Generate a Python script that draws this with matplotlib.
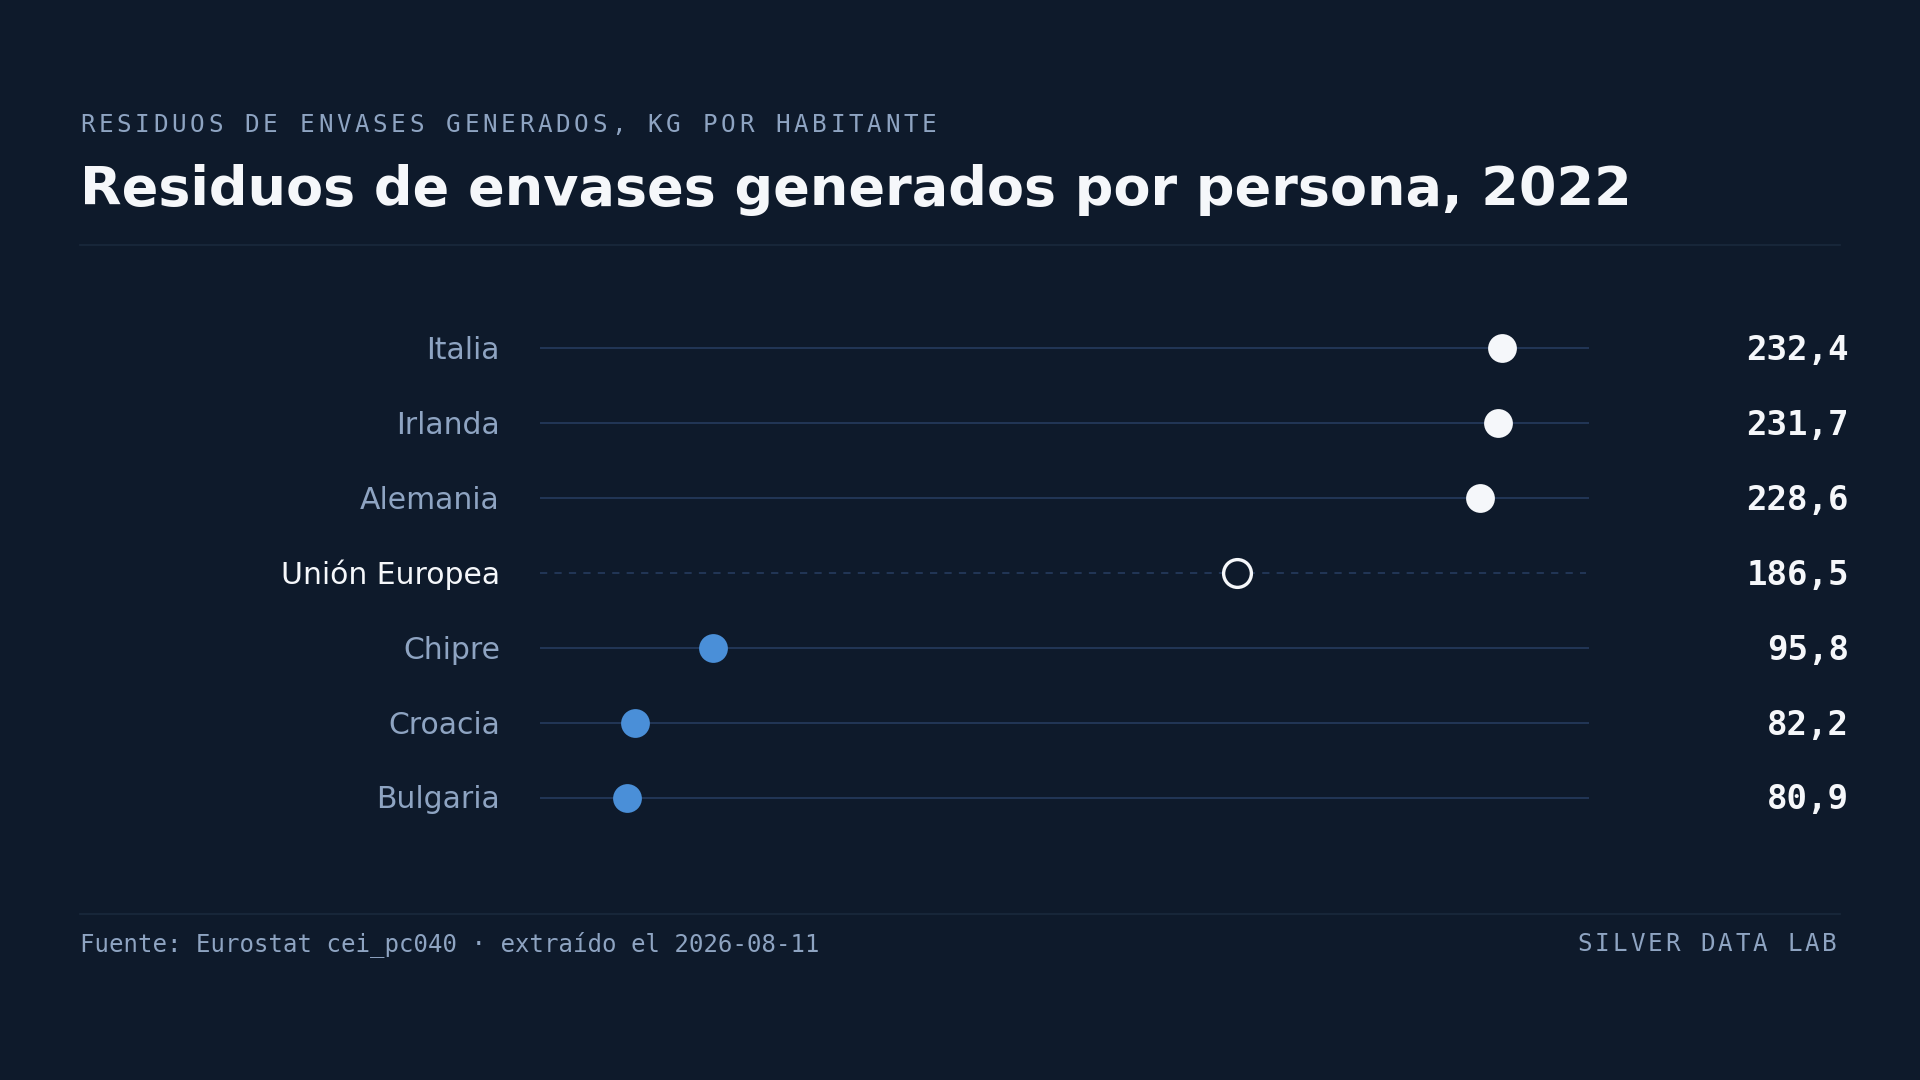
import matplotlib
matplotlib.use("Agg")
import matplotlib.pyplot as plt
import matplotlib.transforms as mtransforms

countries = ["Italia", "Irlanda", "Alemania", "Unión Europea", "Chipre", "Croacia", "Bulgaria"]
values = [232.4, 231.7, 228.6, 186.5, 95.8, 82.2, 80.9]
highlight = [True, True, True, False, False, False, False]
eu_label = "Unión Europea"

kicker = "RESIDUOS DE ENVASES GENERADOS, KG POR HABITANTE"
title = "Residuos de envases generados por persona, 2022"
source = "Fuente: Eurostat cei_pc040 · extraído el 2026-08-11"
brand = "SILVER DATA LAB"

BG = "#0e1a2b"
MUTED = "#8ea4c2"
WHITE = "#f5f7fa"
BLUE = "#4a8fd8"
RULE = "#24385a"
SEP = "#1a293c"

W, H = 1920, 1080


def fx(px):
    return px / W


def fy(py):
    return 1 - py / H


def spaced(fig, x_px, y_px, s, adv_px, **kw):
    # letter-spaced mono text, one glyph at a time
    for i, ch in enumerate(s):
        fig.text(fx(x_px + i * adv_px), fy(y_px), ch, va="baseline", ha="left", **kw)


def fmt(v):
    return f"{v:.1f}".replace(".", ",")


fig = plt.figure(figsize=(19.2, 10.8), dpi=100, facecolor=BG)

# header
spaced(fig, 80, 132, kicker, 18.3, family="DejaVu Sans Mono", fontsize=17.5, color=MUTED)
fig.text(fx(80), fy(205), title, fontsize=38.9, fontweight="bold", color=WHITE,
         va="baseline", ha="left")
fig.add_artist(plt.Line2D([fx(80), fx(1840)], [fy(245), fy(245)], color=SEP, lw=1.2,
                          transform=fig.transFigure))

# plot area, rows 348 .. 797.5 px
step = (797.5 - 348) / (len(countries) - 1)
top, bot = 348 - step / 2, 797.5 + step / 2
ax = fig.add_axes([fx(540), fy(bot), fx(1589) - fx(540), fy(top) - fy(bot)])
ax.set_facecolor(BG)
span = max(values) - min(values)
lo, hi = min(values) - 0.1 * span, max(values) + 0.1 * span
ax.set_xlim(lo, hi)
ax.set_ylim(len(countries) - 0.5, -0.5)
ax.axis("off")

lab_tr = mtransforms.blended_transform_factory(fig.transFigure, ax.transData)
nudge = mtransforms.ScaledTranslation(0, -2.5 / 100, fig.dpi_scale_trans)

for i, (c, v, hl) in enumerate(zip(countries, values, highlight)):
    is_eu = c == eu_label
    if is_eu:
        ax.plot([lo, hi - 0.6], [i, i], color=RULE, lw=1.3, ls=(0, (4, 4)), zorder=1)
        ax.scatter([v], [i], s=400, facecolor=BG, edgecolor=WHITE, linewidth=2.4, zorder=3)
    else:
        ax.plot([lo, hi], [i, i], color=RULE, lw=1.3, zorder=1)
        ax.scatter([v], [i], s=430, color=WHITE if hl else BLUE, linewidth=0, zorder=3)
    ax.text(fx(500), i, c, transform=lab_tr + nudge, ha="right", va="center",
            fontsize=21.5, color=WHITE if is_eu else MUTED)
    ax.text(fx(1849), i, fmt(v), transform=lab_tr + nudge, ha="right", va="center",
            fontsize=24.6, fontweight="bold", family="DejaVu Sans Mono", color=WHITE)

# footer
fig.add_artist(plt.Line2D([fx(80), fx(1840)], [fy(913.5), fy(913.5)], color=SEP, lw=1.2,
                          transform=fig.transFigure))
fig.text(fx(80), fy(951), source, family="DejaVu Sans Mono", fontsize=17.3, color=MUTED,
         va="baseline", ha="left")
spaced(fig, 1577.5, 951, brand, 17.5, family="DejaVu Sans Mono", fontsize=17.5, color=MUTED)

fig.savefig("out.png", dpi=100, facecolor=BG)
